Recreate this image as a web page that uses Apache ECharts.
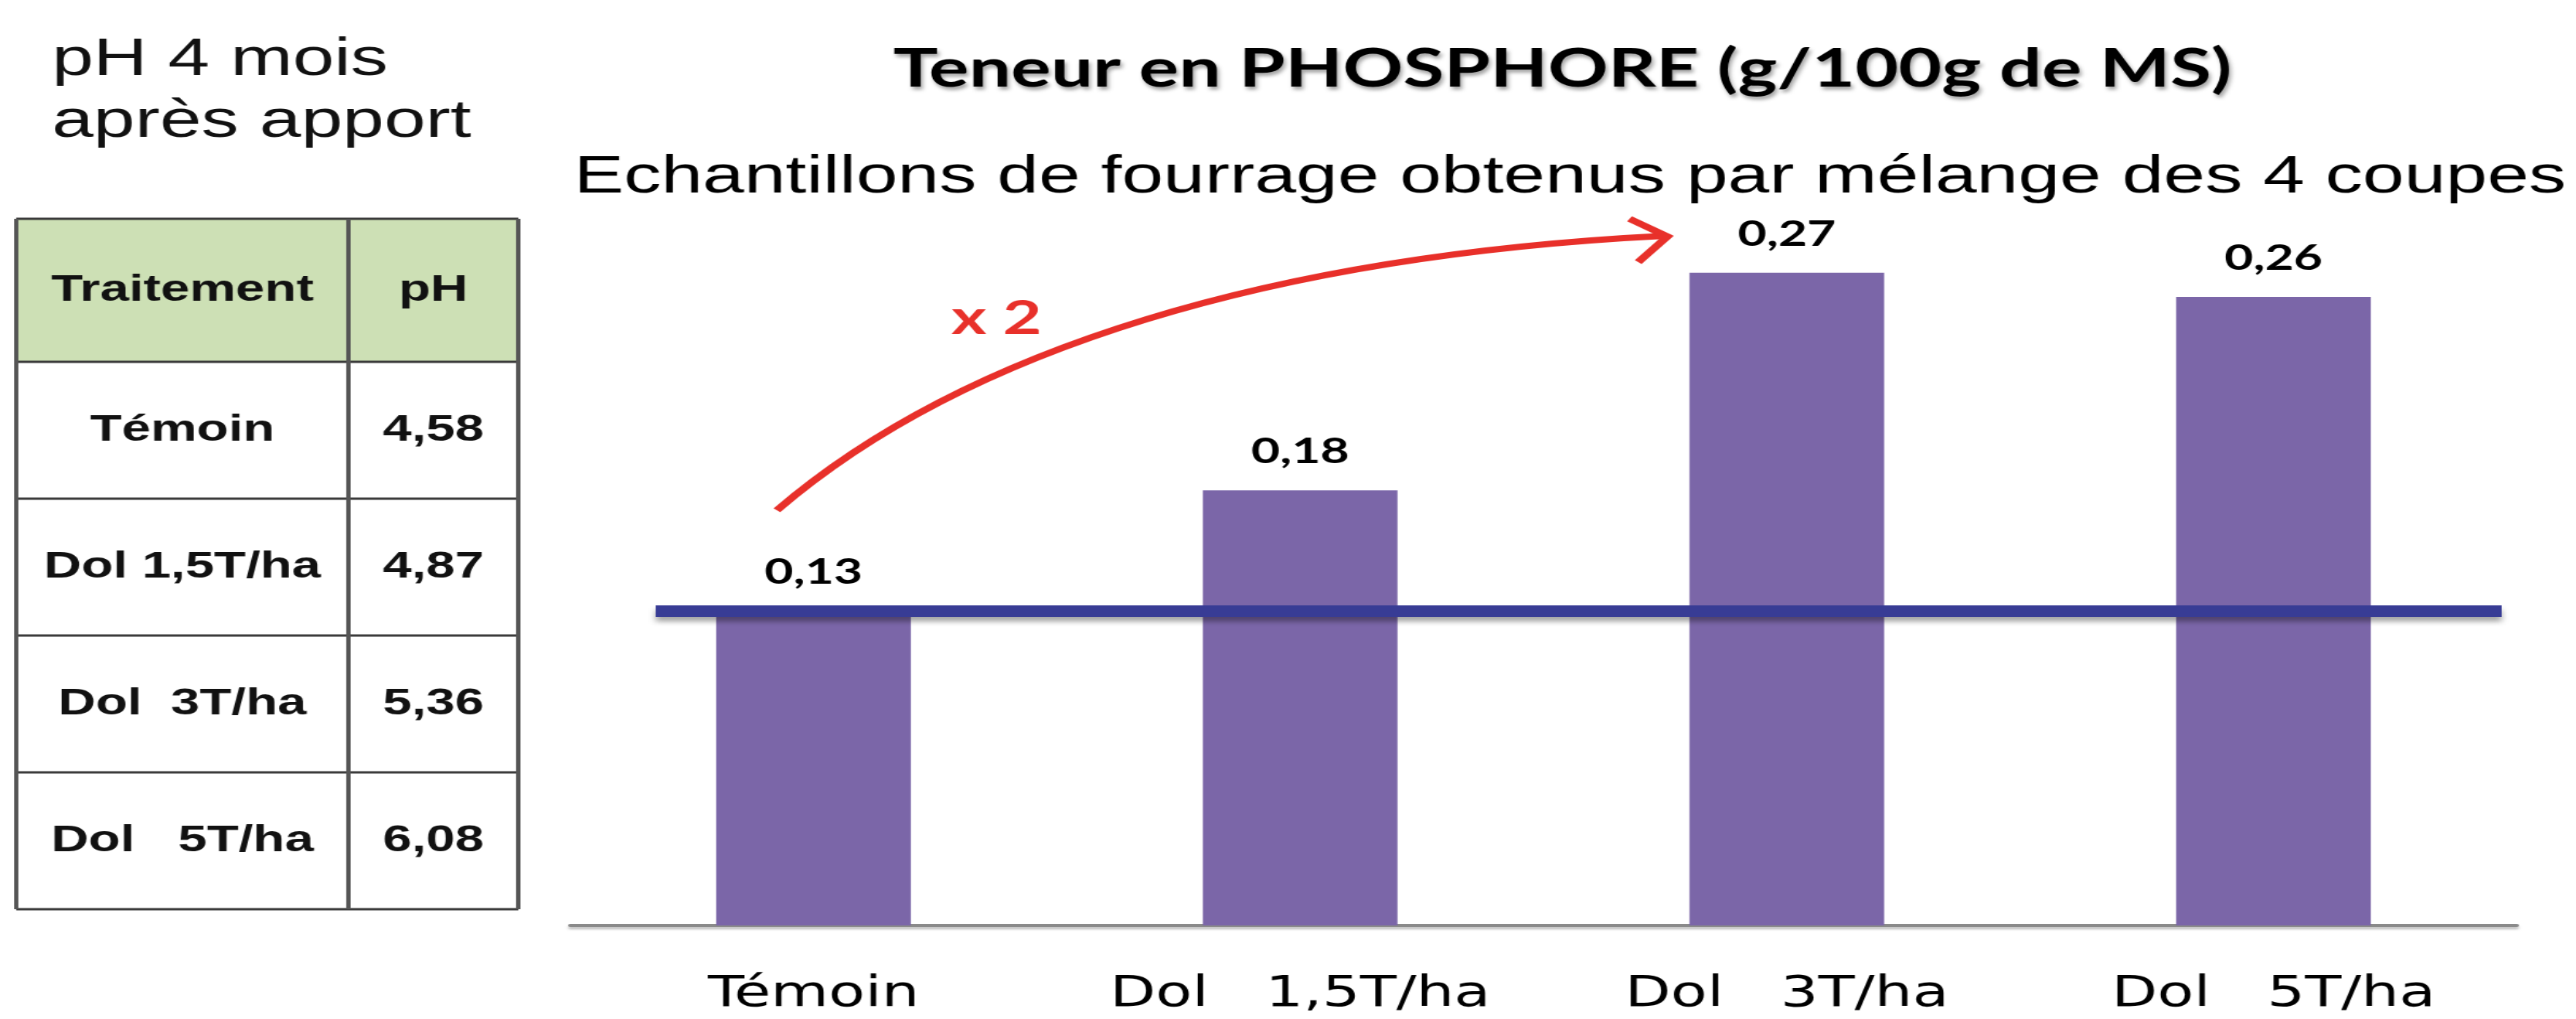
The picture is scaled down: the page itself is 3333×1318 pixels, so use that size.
<!DOCTYPE html>
<html>
<head>
<meta charset="utf-8">
<title>Teneur en PHOSPHORE</title>
<style>
  html, body { margin: 0; padding: 0; background: #fff; overflow: hidden; }
  /* the original slide is stretched sideways, so the chart is drawn narrow and widened */
  #main { width: 2381px; height: 1318px; transform: scaleX(1.4); transform-origin: 0 0; }
</style>
</head>
<body>
<div id="main"></div>
<script src="https://cdn.jsdelivr.net/npm/echarts@6.0.0/dist/echarts.min.js"></script>
<script type="text/javascript">
var categories = ['Témoin', 'Dol   1,5T/ha', 'Dol   3T/ha', 'Dol   5T/ha'];
var phosphore = [0.13, 0.18, 0.27, 0.26];

var tableHeader = ['Traitement', 'pH'];
var tableLabels = ['Témoin', 'Dol 1,5T/ha', 'Dol  3T/ha', 'Dol   5T/ha'];
var phValues = [4.58, 4.87, 5.36, 6.08];

var myChart = echarts.init(document.getElementById('main'));

function virgule(v) {
    return String(v).replace('.', ',');
}

// table pH (left)
var colX = [15, 322, 479];
var headerTop = 283, headerH = 185, rowH = 177;
var tableBottom = headerTop + headerH + rowH * tableLabels.length;
var cellFont = 'bold 48px "Liberation Sans", Arial, sans-serif';
var table = [];
table.push({
    type: 'rect',
    shape: { x: colX[0], y: headerTop, width: colX[2] - colX[0], height: headerH },
    style: { fill: '#cde0b5' }
});
table.push({ type: 'text', x: (colX[0] + colX[1]) / 2, y: headerTop + headerH / 2,
    style: { text: tableHeader[0], font: cellFont, fill: '#111', align: 'center', verticalAlign: 'middle' } });
table.push({ type: 'text', x: (colX[1] + colX[2]) / 2, y: headerTop + headerH / 2,
    style: { text: tableHeader[1], font: cellFont, fill: '#111', align: 'center', verticalAlign: 'middle' } });
for (var i = 0; i < tableLabels.length; i++) {
    var cy = headerTop + headerH + rowH * i + rowH / 2;
    table.push({ type: 'text', x: (colX[0] + colX[1]) / 2, y: cy,
        style: { text: tableLabels[i], font: cellFont, fill: '#111', align: 'center', verticalAlign: 'middle' } });
    table.push({ type: 'text', x: (colX[1] + colX[2]) / 2, y: cy,
        style: { text: virgule(phValues[i].toFixed(2)), font: cellFont, fill: '#111', align: 'center', verticalAlign: 'middle' } });
}
var hLines = [headerTop, headerTop + headerH];
for (var j = 1; j <= tableLabels.length; j++) hLines.push(headerTop + headerH + rowH * j);
hLines.forEach(function (y) {
    table.push({ type: 'line', shape: { x1: colX[0], y1: y, x2: colX[2], y2: y },
        style: { stroke: '#3a3a3a', lineWidth: 3 } });
});
colX.forEach(function (x) {
    table.push({ type: 'line', shape: { x1: x, y1: headerTop, x2: x, y2: tableBottom },
        style: { stroke: '#555', lineWidth: 4 } });
});

// red arrow "x 2"
var arrow = [
    {
        type: 'bezierCurve',
        shape: { x1: 718, y1: 660, cpx1: 893, cpy1: 450, cpx2: 1179, cpy2: 330, x2: 1539, y2: 305 },
        style: { stroke: '#e8302a', lineWidth: 8, fill: null }
    },
    {
        type: 'polyline',
        shape: { points: [[1506, 283], [1541, 306], [1514, 339]] },
        style: { stroke: '#e8302a', lineWidth: 8, fill: null }
    },
    {
        type: 'text', x: 921, y: 412,
        style: { text: 'x 2', font: 'bold 62px Lato, sans-serif', fill: '#e8302a', align: 'center', verticalAlign: 'middle' }
    }
];

var option = {
    backgroundColor: '#fff',
    title: [
        {
            text: 'Teneur en PHOSPHORE (g/100g de MS)',
            left: 1444, top: 55, padding: 0,
            textAlign: 'center',
            textStyle: {
                fontFamily: 'Lato', fontWeight: 'bold', fontSize: 69, lineHeight: 69, color: '#000',
                textShadowColor: 'rgba(0,0,0,0.35)', textShadowBlur: 4, textShadowOffsetX: 2, textShadowOffsetY: 4
            }
        },
        {
            text: 'Echantillons de fourrage obtenus par mélange des 4 coupes',
            left: 1451, top: 195, padding: 0,
            textAlign: 'center',
            textStyle: { fontFamily: 'Liberation Sans', fontWeight: 'normal', fontSize: 69, lineHeight: 69, color: '#000' }
        },
        {
            text: 'pH 4 mois\naprès apport',
            left: 48, top: 38, padding: 0,
            textStyle: { fontFamily: 'Liberation Sans', fontWeight: 'normal', fontSize: 69, lineHeight: 80, color: '#111' }
        }
    ],
    grid: {
        left: 527,
        right: 55,
        top: 259,
        bottom: 121,
        containLabel: false
    },
    xAxis: {
        type: 'category',
        data: categories,
        axisTick: { show: false },
        axisLine: {
            lineStyle: { color: '#8a8a8a', width: 4, shadowColor: 'rgba(0,0,0,0.25)', shadowBlur: 3, shadowOffsetY: 3 }
        },
        axisLabel: {
            interval: 0,
            hideOverlap: false,
            margin: 62,
            color: '#000',
            fontFamily: 'DejaVu Sans',
            fontSize: 55
        }
    },
    yAxis: {
        type: 'value',
        min: 0,
        max: 0.3,
        show: false,
        splitLine: { show: false }
    },
    series: [{
        type: 'bar',
        data: phosphore,
        barWidth: '40%',
        itemStyle: { color: '#7b66a8' },
        label: {
            show: true,
            position: 'top',
            distance: 27,
            color: '#000',
            fontFamily: 'Lato',
            fontWeight: 'bold',
            fontSize: 46,
            formatter: function (p) { return virgule(p.value); }
        },
        markLine: {
            silent: true,
            symbol: 'none',
            label: { show: false },
            lineStyle: {
                type: 'solid', color: '#383c95', width: 15,
                shadowColor: 'rgba(0,0,0,0.35)', shadowBlur: 6, shadowOffsetY: 6
            },
            data: [[
                { coord: [0, phosphore[0]], x: 606 },
                { coord: [3, phosphore[0]], x: 2312 }
            ]]
        }
    }],
    graphic: table.concat(arrow)
};
myChart.setOption(option);
</script>
</body>
</html>
